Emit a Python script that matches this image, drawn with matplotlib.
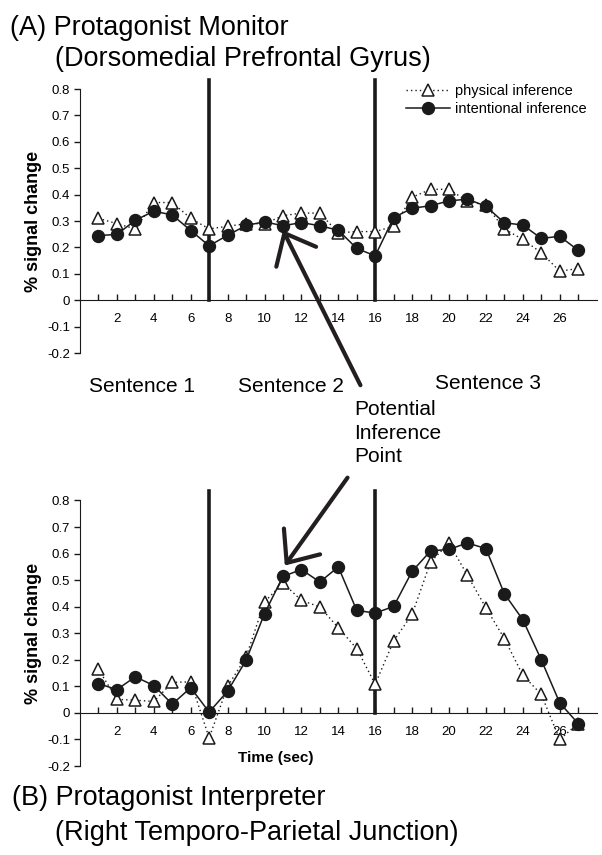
import numpy as np
import matplotlib.pyplot as plt

plt.rcParams['font.family'] = ['Liberation Sans', 'DejaVu Sans']

# Data (seconds 1..27)
time = np.arange(1, 28)

# (A) dorsomedial prefrontal gyrus
top_physical = [0.31, 0.29, 0.27, 0.37, 0.37, 0.31, 0.27, 0.28, 0.29, 0.29,
                0.32, 0.33, 0.33, 0.255, 0.26, 0.26, 0.28, 0.39, 0.42, 0.42,
                0.375, 0.36, 0.27, 0.23, 0.18, 0.11, 0.12]
top_intentional = [0.245, 0.249, 0.303, 0.337, 0.323, 0.264, 0.206, 0.246, 0.283, 0.297,
                   0.282, 0.294, 0.282, 0.265, 0.196, 0.168, 0.313, 0.348, 0.358, 0.376,
                   0.383, 0.356, 0.293, 0.285, 0.234, 0.242, 0.189]

# (B) right temporo-parietal junction
bot_physical = [0.164, 0.051, 0.048, 0.043, 0.115, 0.117, -0.094, 0.10, 0.21, 0.418,
                0.489, 0.424, 0.399, 0.321, 0.242, 0.108, 0.271, 0.371, 0.568, 0.64,
                0.518, 0.396, 0.28, 0.142, 0.07, -0.10, -0.04]
bot_intentional = [0.110, 0.088, 0.136, 0.103, 0.033, 0.095, 0.003, 0.082, 0.198, 0.374,
                   0.514, 0.54, 0.493, 0.55, 0.386, 0.376, 0.401, 0.533, 0.61, 0.616,
                   0.64, 0.619, 0.449, 0.351, 0.20, 0.038, -0.04]

sentence_bounds = [7, 16]
sentence_labels = ['Sentence 1', 'Sentence 2', 'Sentence 3']
yticks = np.round(np.arange(-0.2, 0.81, 0.1), 1)

W, H = 602, 855


def fx(px):
    return px / W


def fy(py):
    return 1 - py / H


ink = '#1a1a1a'
fig = plt.figure(figsize=(W / 100, H / 100), dpi=100)
ax1 = fig.add_axes([fx(80), fy(353), 516.6 / W, 264 / H])
ax2 = fig.add_axes([fx(80), fy(766), 516.6 / W, 265.5 / H])


def style(ax, phys, inten):
    for b in sentence_bounds:
        ax.plot([b, b], [0, 0.835], color=ink, lw=2.6, clip_on=False, zorder=1)
    lp, = ax.plot(time, phys, color=ink, lw=1.0, ls=(0, (1, 2.2)), marker='^',
                  ms=9, mfc='white', mec=ink, mew=1.1, zorder=3, clip_on=False,
                  label='physical inference')
    li, = ax.plot(time, inten, color=ink, lw=1.1, marker='o', ms=8.6,
                  mfc=ink, mec=ink, zorder=4, clip_on=False,
                  label='intentional inference')
    ax.set_xlim(0, 28)
    ax.set_ylim(-0.2, 0.8)
    for s in ['top', 'right']:
        ax.spines[s].set_visible(False)
    ax.spines['bottom'].set_position(('data', 0))
    ax.spines['left'].set_color(ink)
    ax.spines['bottom'].set_color(ink)
    ax.set_yticks(yticks)
    ax.set_yticklabels(['0' if v == 0 else f'{v:g}' for v in yticks])
    ax.set_xticks(np.arange(2, 28, 2))
    ax.set_xticks(np.arange(1, 28, 2), minor=True)
    ax.tick_params(axis='x', which='both', direction='in', length=4, width=1,
                   pad=9.5, labelsize=9.5, color=ink)
    ax.tick_params(axis='y', direction='out', length=4, width=1, pad=3,
                   labelsize=9.5, color=ink)
    ax.set_ylabel('% signal change', fontsize=13, fontweight='bold')
    ax.yaxis.set_label_coords(-0.074, 0.5)
    return lp, li


lp, li = style(ax1, top_physical, top_intentional)
style(ax2, bot_physical, bot_intentional)

ax1.legend(handles=[lp, li], loc='upper left', bbox_to_anchor=(fx(406), fy(84)),
           bbox_transform=fig.transFigure, frameon=False, fontsize=10.5,
           handlelength=3.0, handletextpad=0.35, labelspacing=0.3,
           borderpad=0, borderaxespad=0, numpoints=1)

# Panel titles
fig.text(fx(10), fy(35), '(A) Protagonist Monitor', fontsize=19.5, va='baseline')
fig.text(fx(55), fy(66), '(Dorsomedial Prefrontal Gyrus)', fontsize=19.5, va='baseline')
fig.text(fx(12), fy(805), '(B) Protagonist Interpreter', fontsize=19.5, va='baseline')
fig.text(fx(55), fy(840), '(Right Temporo-Parietal Junction)', fontsize=19.5, va='baseline')

# Sentence labels
for lbl, x0, y0 in zip(sentence_labels, [89, 238, 435], [392, 392, 389]):
    fig.text(fx(x0), fy(y0), lbl, fontsize=15, va='baseline')

for i, line in enumerate(['Potential', 'Inference', 'Point']):
    fig.text(fx(354), fy(415 + 23.5 * i), line, fontsize=15, va='baseline')

fig.text(fx(276), fy(758), 'Time (sec)', fontsize=11, fontweight='bold',
         ha='center', va='center')

# Inference-point arrows
arrow = dict(arrowstyle='->,head_length=0.95,head_width=0.8', lw=3,
             color='#231f20', mutation_scale=20, shrinkA=0, shrinkB=0)
ax1.annotate('', xy=(11.0, 0.265), xytext=(15.2, -0.322), arrowprops=arrow,
             annotation_clip=False)
ax2.annotate('', xy=(11.1, 0.555), xytext=(14.5, 0.886), arrowprops=arrow,
             annotation_clip=False)

fig.savefig('out.png', dpi=100)
